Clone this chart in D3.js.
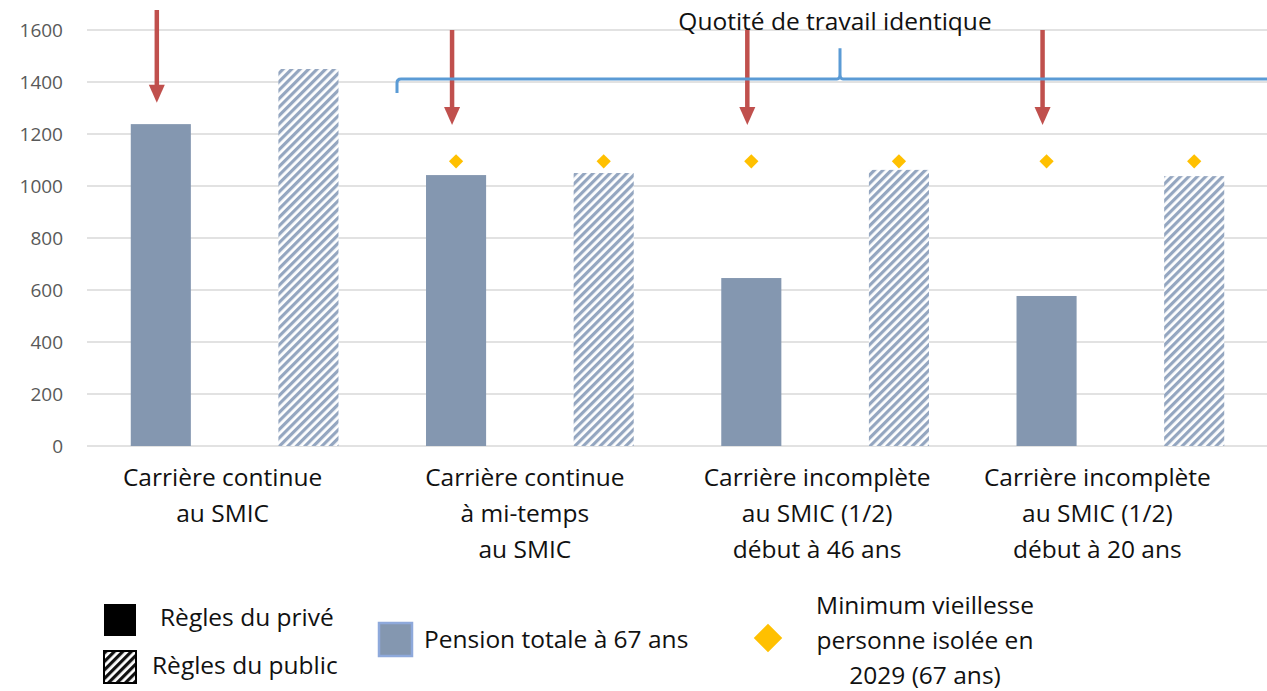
<!DOCTYPE html>
<html>
<head>
<meta charset="utf-8">
<script src="https://cdn.jsdelivr.net/npm/d3@7"></script>
<style>
  body { margin: 0; background: #fff; }
  svg { display: block; font-family: "Open Sans", sans-serif; }
</style>
</head>
<body>
<div class="chart"></div>
<script>
// data
const categories = ["c1", "c2", "c3", "c4"];
const categoryLabels = [
    ["Carrière continue", "au SMIC"],
    ["Carrière continue", "à mi-temps", "au SMIC"],
    ["Carrière incomplète", "au SMIC (1/2)", "début à 46 ans"],
    ["Carrière incomplète", "au SMIC (1/2)", "début à 20 ans"]
];
const series = ["prive", "public"];
const prive = [1238, 1042, 646, 577];
const publicVals = [1450, 1050, 1062, 1038];
const minVieillesse = [null, 1095, 1095, 1095];
const yTicks = [0, 200, 400, 600, 800, 1000, 1200, 1400, 1600];
const arrowTop = [1677, 1600, 1600, 1600];
const arrowTip = [1320, 1235, 1235, 1235];
const bracketLevel = 1412;
const bracketPeak = 1530;
const bracketEnd = 1358;

const W = 1267, H = 691;
const barColor = "#8497B0";
const arrowColor = "#C0504D";
const bracketColor = "#5B9BD5";
const diamondColor = "#FFC000";
const bigFont = 24.5;

const svg = d3.select(".chart").append("svg")
    .attr("width", W)
    .attr("height", H);

const defs = svg.append("defs");
const hatch = defs.append("pattern")
    .attr("id", "hatch")
    .attr("patternUnits", "userSpaceOnUse")
    .attr("width", 6)
    .attr("height", 6)
    .attr("patternTransform", "rotate(45)");
hatch.append("rect").attr("width", 6).attr("height", 6).attr("fill", "#fff");
hatch.append("rect").attr("width", 3.2).attr("height", 6).attr("fill", "#94A6C0");

const hatchBlack = defs.append("pattern")
    .attr("id", "hatchBlack")
    .attr("patternUnits", "userSpaceOnUse")
    .attr("width", 6)
    .attr("height", 6)
    .attr("patternTransform", "rotate(45)");
hatchBlack.append("rect").attr("width", 6).attr("height", 6).attr("fill", "#fff");
hatchBlack.append("rect").attr("width", 3.2).attr("height", 6).attr("fill", "#111");

const x0 = d3.scaleBand()
    .domain(categories)
    .range([87, 1268]);
const x1 = d3.scaleBand()
    .domain(series)
    .range([0, x0.bandwidth()])
    .paddingInner(0.593)
    .paddingOuter(0.2965);
const y = d3.scaleLinear()
    .domain([0, 1600])
    .range([446, 30]);

// grid
svg.append("g")
    .selectAll("line")
    .data(yTicks)
    .join("line")
    .attr("x1", 87)
    .attr("x2", W)
    .attr("y1", d => y(d))
    .attr("y2", d => y(d))
    .attr("stroke", "#D9D9D9")
    .attr("stroke-width", 1.3);

// y axis labels
const yAxis = svg.append("g")
    .attr("transform", "translate(71,0)")
    .call(d3.axisLeft(y).tickValues(yTicks).tickFormat(d3.format("d")).tickSize(0).tickPadding(8));
yAxis.select(".domain").remove();
yAxis.selectAll("text")
    .attr("font-size", 19)
    .attr("font-family", "'Open Sans', sans-serif")
    .attr("fill", "#595959");

// bars
const groups = svg.append("g")
    .selectAll("g")
    .data(categories)
    .join("g")
    .attr("transform", d => `translate(${x0(d)},0)`);

groups.append("rect")
    .attr("x", x1("prive"))
    .attr("width", x1.bandwidth())
    .attr("y", (d, i) => y(prive[i]))
    .attr("height", (d, i) => y(0) - y(prive[i]))
    .attr("fill", barColor);

groups.append("rect")
    .attr("x", x1("public"))
    .attr("width", x1.bandwidth())
    .attr("y", (d, i) => y(publicVals[i]))
    .attr("height", (d, i) => y(0) - y(publicVals[i]))
    .attr("fill", "url(#hatch)");

// diamonds
groups.each(function(d, i) {
    if (minVieillesse[i] == null) return;
    d3.select(this).selectAll(".dia")
        .data(series)
        .join("path")
        .attr("class", "dia")
        .attr("d", d3.symbol(d3.symbolDiamond2, 130))
        .attr("transform", s => `translate(${x1(s) + x1.bandwidth() / 2},${y(minVieillesse[i])})`)
        .attr("fill", diamondColor);
});

// category labels
const labelNudge = [-12, -5, -8, -23];
const labels = svg.append("g")
    .selectAll("text")
    .data(categoryLabels)
    .join("text")
    .attr("text-anchor", "middle")
    .attr("font-size", bigFont)
    .attr("fill", "#111")
    .attr("transform", (d, i) => `translate(${x0(categories[i]) + x0.bandwidth() / 2 + labelNudge[i]},486)`);
labels.selectAll("tspan")
    .data(d => d)
    .join("tspan")
    .attr("x", 0)
    .attr("y", (d, j) => j * 36)
    .text(d => d);

// red arrows
groups.append("line")
    .attr("x1", x1("prive") + x1.bandwidth() / 2 - 4)
    .attr("x2", x1("prive") + x1.bandwidth() / 2 - 4)
    .attr("y1", (d, i) => y(arrowTop[i]))
    .attr("y2", (d, i) => y(arrowTip[i]) - 14)
    .attr("stroke", arrowColor)
    .attr("stroke-width", 4.5);
groups.append("path")
    .attr("d", (d, i) => {
        const cx = x1("prive") + x1.bandwidth() / 2 - 4;
        const ty = y(arrowTip[i]);
        return `M${cx - 8},${ty - 18}L${cx + 8},${ty - 18}L${cx},${ty}Z`;
    })
    .attr("fill", arrowColor);

// bracket
const bx0 = 397, bxPeak = 840;
svg.append("path")
    .attr("d", `M${bx0},${y(bracketEnd)} L${bx0},${y(bracketLevel) + 4} Q${bx0},${y(bracketLevel)} ${bx0 + 4},${y(bracketLevel)}
        L${bxPeak - 3},${y(bracketLevel)} Q${bxPeak},${y(bracketLevel)} ${bxPeak},${y(bracketLevel) - 5} L${bxPeak},${y(bracketPeak)}
        M${bxPeak},${y(bracketLevel) - 5} Q${bxPeak},${y(bracketLevel)} ${bxPeak + 3},${y(bracketLevel)} L${W},${y(bracketLevel)}`)
    .attr("fill", "none")
    .attr("stroke", bracketColor)
    .attr("stroke-width", 3);

svg.append("text")
    .attr("x", 835)
    .attr("y", 30)
    .attr("text-anchor", "middle")
    .attr("font-size", bigFont)
    .attr("fill", "#111")
    .text("Quotité de travail identique");

// legend
const leg = svg.append("g").attr("font-size", bigFont).attr("fill", "#111");
leg.append("rect").attr("x", 104).attr("y", 604).attr("width", 32).attr("height", 32).attr("fill", "#000");
leg.append("text").attr("x", 160).attr("y", 626).text("Règles du privé");
leg.append("rect").attr("x", 104).attr("y", 651).attr("width", 32).attr("height", 32)
    .attr("fill", "url(#hatchBlack)").attr("stroke", "#000").attr("stroke-width", 2);
leg.append("text").attr("x", 152).attr("y", 674).text("Règles du public");

leg.append("rect").attr("x", 379).attr("y", 623).attr("width", 33).attr("height", 33)
    .attr("fill", barColor).attr("stroke", "#8EA9DB").attr("stroke-width", 2.5);
leg.append("text").attr("x", 424).attr("y", 648).text("Pension totale à 67 ans");

leg.append("path")
    .attr("d", d3.symbol(d3.symbolDiamond2, 520))
    .attr("transform", "translate(768,638)")
    .attr("fill", diamondColor);
leg.append("text")
    .attr("text-anchor", "middle")
    .attr("transform", "translate(925,614)")
    .selectAll("tspan")
    .data(["Minimum vieillesse", "personne isolée en", "2029 (67 ans)"])
    .join("tspan")
    .attr("x", 0)
    .attr("y", (d, j) => j * 35)
    .text(d => d);
</script>
</body>
</html>
